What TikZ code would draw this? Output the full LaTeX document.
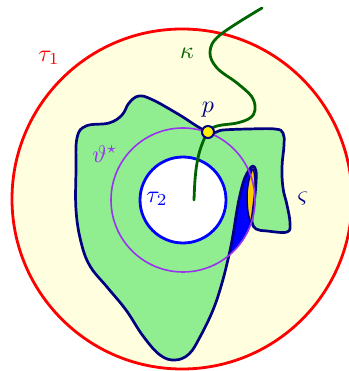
\documentclass[tikz,border=0pt]{standalone}
\usepackage{amsmath,amssymb}
\usetikzlibrary{positioning}
\definecolor{cream}{RGB}{255,255,224}
\definecolor{leaf}{RGB}{144,238,144}
\definecolor{ink}{RGB}{0,0,128}
\definecolor{forest}{RGB}{0,100,0}
\definecolor{amber}{RGB}{255,204,0}
\definecolor{lilac}{RGB}{153,51,240}

\begin{document}
\begin{tikzpicture}[x=1pt,y=1pt,
 lbl/.style={inner sep=0pt,scale=2.4},
 ring/.style={line width=2.8pt},
 edge/.style={draw=ink,line width=2.7pt,line join=round}
]
\useasboundingbox (-183,-171) rectangle (165,200);
% outer disc tau_1
\draw[ring,red,fill=cream] (-1,1) circle (170);
% the region varsigma
\path[save path=\regionpath] plot[smooth cycle,tension=0.65] coordinates {
 (25,68) (-5,86) (-30,100) (-44,104) (-54,97) (-61,85) (-74,77) (-97,74)
 (-106,62) (-107,30) (-107,-10) (-102,-42) (-93,-66) (-76,-87) (-57,-110)
 (-40,-136) (-23,-155) (-8,-160) (6,-154) (17,-137) (30,-110) (39,-83)
 (46,-55) (50,-35) (54,-10) (57,5) (61,20) (66,30) (70,34) (73,29)
 (73,18) (72,5) (70,-12) (69,-22) (73,-29) (84,-31) (104,-32) (107,-23)
 (104,-5) (100,12) (99,33) (101,55) (100,67) (92,71) (65,71) (40,70)};
\fill[leaf,use path=\regionpath];
% blue spike
\fill[blue] plot[smooth,tension=0.65] coordinates {(47.2,-54.3) (50,-35) (54,-10) (57,5) (61,20) (66,30) (70,34)}
 -- plot[smooth,tension=0.55] coordinates {(66,20) (64,5) (65,-12) (68,-22)}
 arc[start angle=-17.9,end angle=-49,radius=72] -- cycle;
% sliver
\filldraw[amber,draw=ink,line width=1.5pt] plot[smooth cycle,tension=0.55] coordinates {
 (70,31) (72,20) (72,5) (70,-12) (68,-22) (65,-12) (64,5) (66,20)};
\draw[edge,use path=\regionpath];
% circles
\draw[lilac,line width=1.6pt] (0,0) circle (72);
\draw[ring,blue,fill=white] (0,0) circle (43);
% curve kappa
\draw[ring,forest,line cap=round] plot[smooth,tension=0.6] coordinates {
 (79,192) (37,165) (27,148) (34,132) (54,117) (69,103) (72,90) (67,82)
 (54,77) (34,74) (25,68) (18,53) (14,37) (12,20) (11,0)};
\node[circle,draw=ink,fill=yellow,line width=2pt,minimum size=12pt,inner sep=0pt] (pt) at (25,68) {};
% labels
\node[lbl,red] (t1) at (-134,142) {$\tau_1$};
\node[lbl,forest] (kap) at (4,147) {$\kappa$};
\node[lbl,ink,above=7pt of pt] (plbl) {$p$};
\node[lbl,lilac] (th) at (-78,46) {$\vartheta^\star$};
\node[lbl,blue] (t2) at (-26,1) {$\tau_2$};
\node[lbl,ink] (sig) at (120,1) {$\varsigma$};
\end{tikzpicture}
\end{document}
